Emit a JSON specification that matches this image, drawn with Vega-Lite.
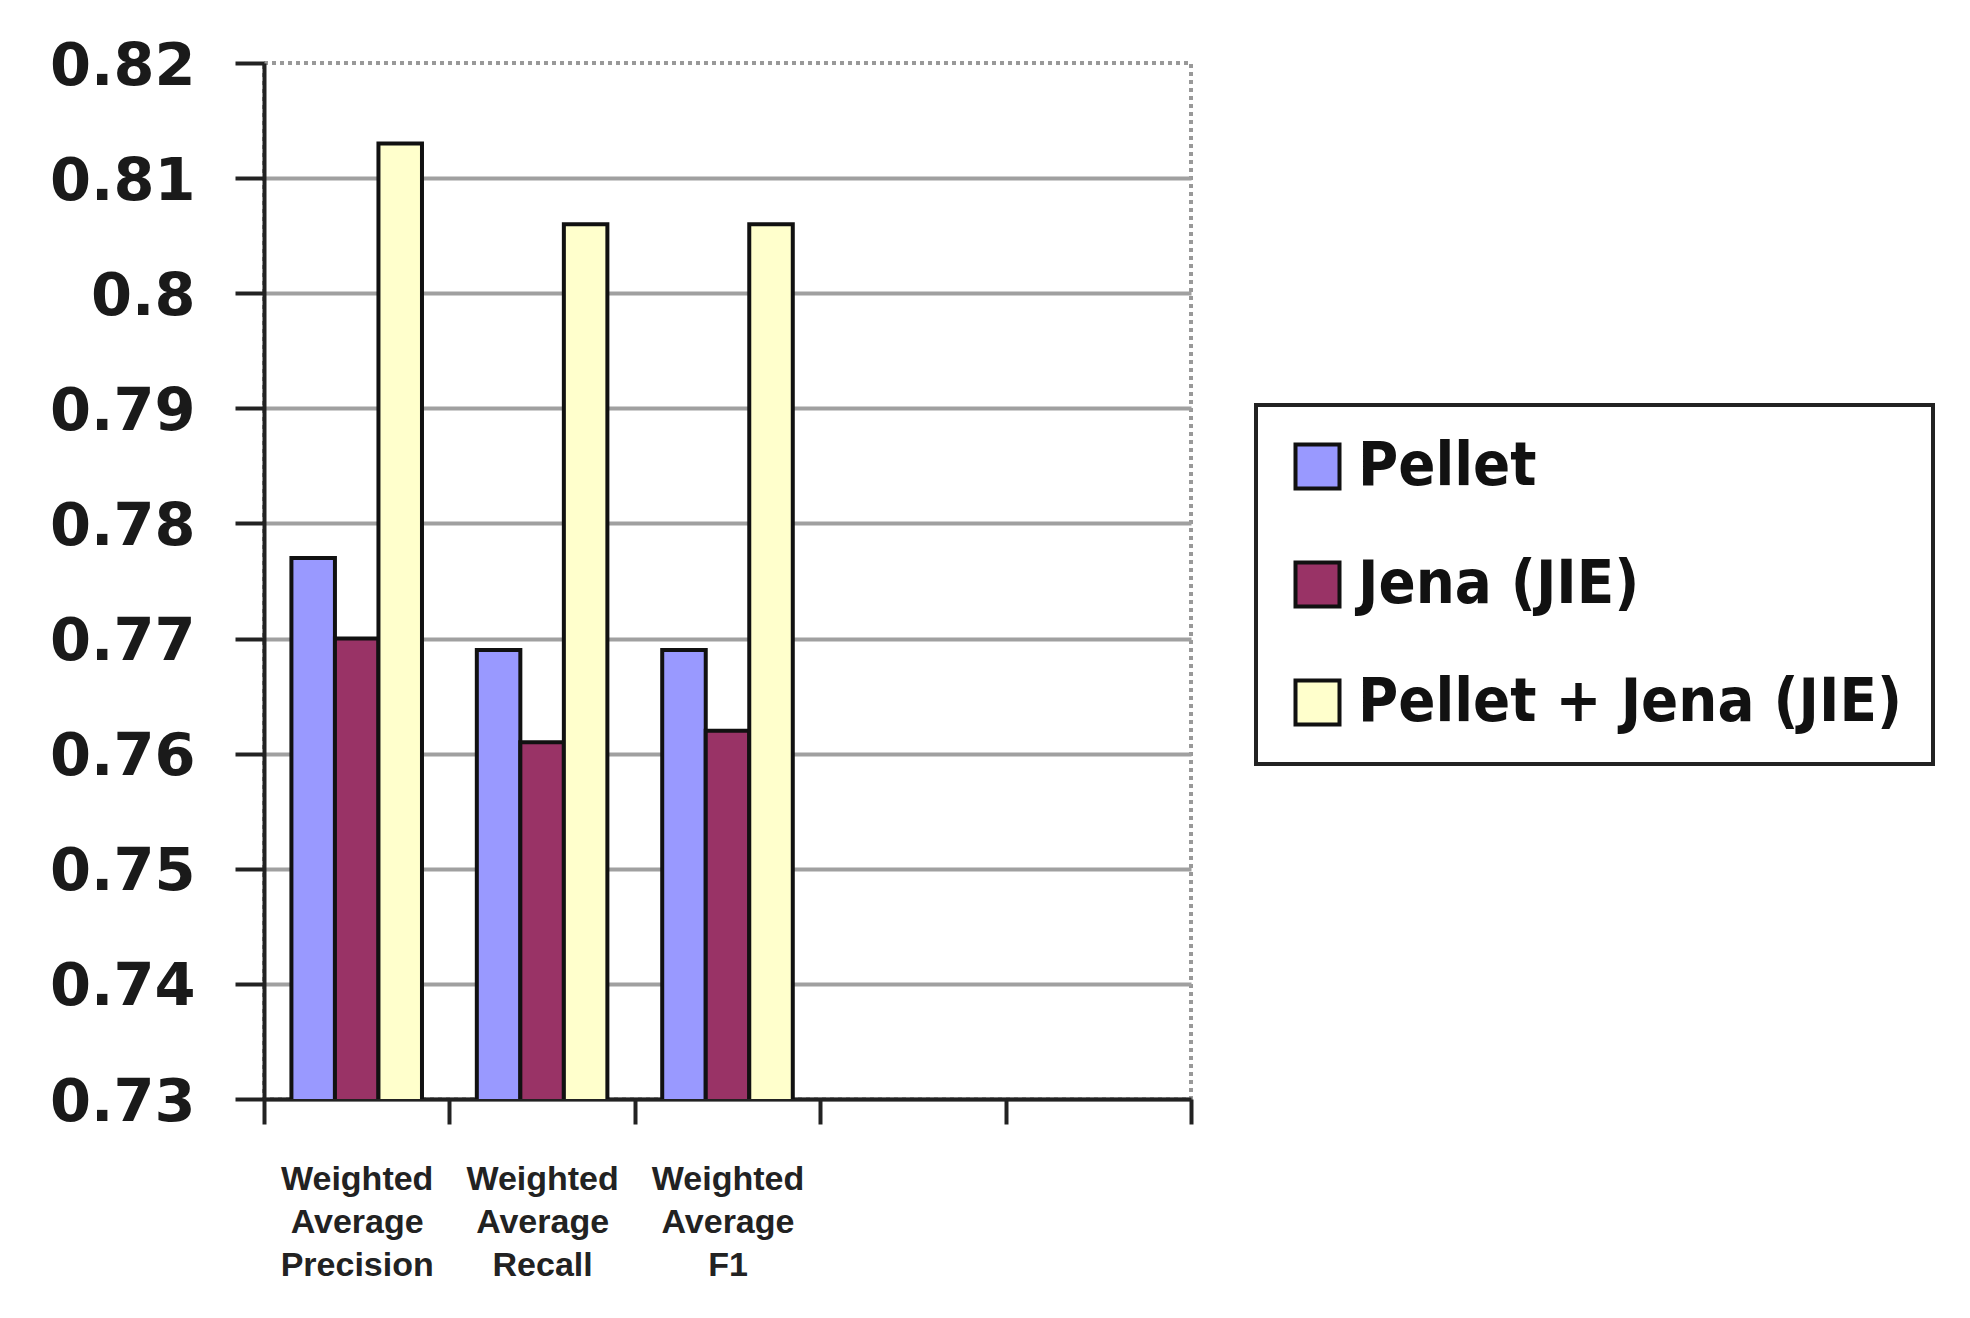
{
  "$schema": "https://vega.github.io/schema/vega-lite/v6.json",
  "width": 927,
  "height": 1036,
  "autosize": "none",
  "padding": {"left": 264, "top": 63, "right": 779, "bottom": 219},
  "background": "white",
  "config": {
    "view": {"stroke": "#999999", "strokeDash": [4, 4], "strokeWidth": 4},
    "legend": {"strokeWidth": 4}
  },
  "data": {
    "values": [
      {"metric": "Weighted Average Precision", "system": "Pellet", "value": 0.777},
      {"metric": "Weighted Average Precision", "system": "Jena (JIE)", "value": 0.770},
      {"metric": "Weighted Average Precision", "system": "Pellet + Jena (JIE)", "value": 0.813},
      {"metric": "Weighted Average Recall", "system": "Pellet", "value": 0.769},
      {"metric": "Weighted Average Recall", "system": "Jena (JIE)", "value": 0.761},
      {"metric": "Weighted Average Recall", "system": "Pellet + Jena (JIE)", "value": 0.806},
      {"metric": "Weighted Average F1", "system": "Pellet", "value": 0.769},
      {"metric": "Weighted Average F1", "system": "Jena (JIE)", "value": 0.762},
      {"metric": "Weighted Average F1", "system": "Pellet + Jena (JIE)", "value": 0.806}
    ]
  },
  "mark": {"type": "bar", "stroke": "#111", "strokeWidth": 4, "clip": true},
  "encoding": {
    "x": {
      "field": "metric",
      "type": "nominal",
      "scale": {
        "domain": ["Weighted Average Precision", "Weighted Average Recall", "Weighted Average F1", "c4", "c5"],
        "paddingInner": 0,
        "paddingOuter": 0
      },
      "axis": {
        "title": null,
        "tickBand": "extent",
        "tickSize": 25,
        "tickWidth": 4,
        "tickColor": "#222",
        "domainColor": "#222",
        "domainWidth": 4,
        "grid": false,
        "labelAngle": 0,
        "labelExpr": "indexof(datum.label, 'Weighted') == 0 ? split(datum.label, ' ') : ''",
        "labelFont": "Liberation Sans",
        "labelFontWeight": "bold",
        "labelFontSize": 34,
        "labelLineHeight": 43,
        "labelColor": "#222",
        "labelPadding": 38,
        "labelLimit": 0
      }
    },
    "xOffset": {
      "field": "system",
      "type": "nominal",
      "scale": {
        "domain": ["Pellet", "Jena (JIE)", "Pellet + Jena (JIE)"],
        "paddingInner": 0,
        "paddingOuter": 0.63
      }
    },
    "y": {
      "field": "value",
      "type": "quantitative",
      "scale": {"domain": [0.73, 0.82], "zero": false, "nice": false},
      "axis": {
        "title": null,
        "values": [0.73, 0.74, 0.75, 0.76, 0.77, 0.78, 0.79, 0.8, 0.81, 0.82],
        "format": ".2~f",
        "labelFont": "DejaVu Sans",
        "labelFontWeight": "bold",
        "labelFontSize": 59,
        "labelColor": "#1a1a1a",
        "labelPadding": 40,
        "labelOffset": 3,
        "tickSize": 29,
        "tickWidth": 4,
        "tickColor": "#222",
        "domainColor": "#222",
        "domainWidth": 4,
        "grid": true,
        "gridColor": "#a0a0a0",
        "gridWidth": 4,
        "gridOpacity": {"condition": {"test": "datum.value >= 0.819", "value": 0}, "value": 1}
      }
    },
    "color": {
      "field": "system",
      "type": "nominal",
      "scale": {
        "domain": ["Pellet", "Jena (JIE)", "Pellet + Jena (JIE)"],
        "range": ["#9999FF", "#993366", "#FFFFCC"]
      },
      "legend": {
        "title": null,
        "orient": "none",
        "legendX": 992,
        "legendY": 342,
        "symbolType": "square",
        "symbolSize": 1936,
        "symbolStrokeColor": "#111",
        "symbolStrokeWidth": 4,
        "symbolOpacity": 1,
        "labelFont": "DejaVu Sans Condensed",
        "labelFontWeight": "bold",
        "labelFontSize": 61,
        "labelColor": "#111",
        "labelOffset": 10,
        "labelLimit": 0,
        "rowPadding": 56,
        "padding": 31,
        "strokeColor": "#222"
      }
    }
  }
}
